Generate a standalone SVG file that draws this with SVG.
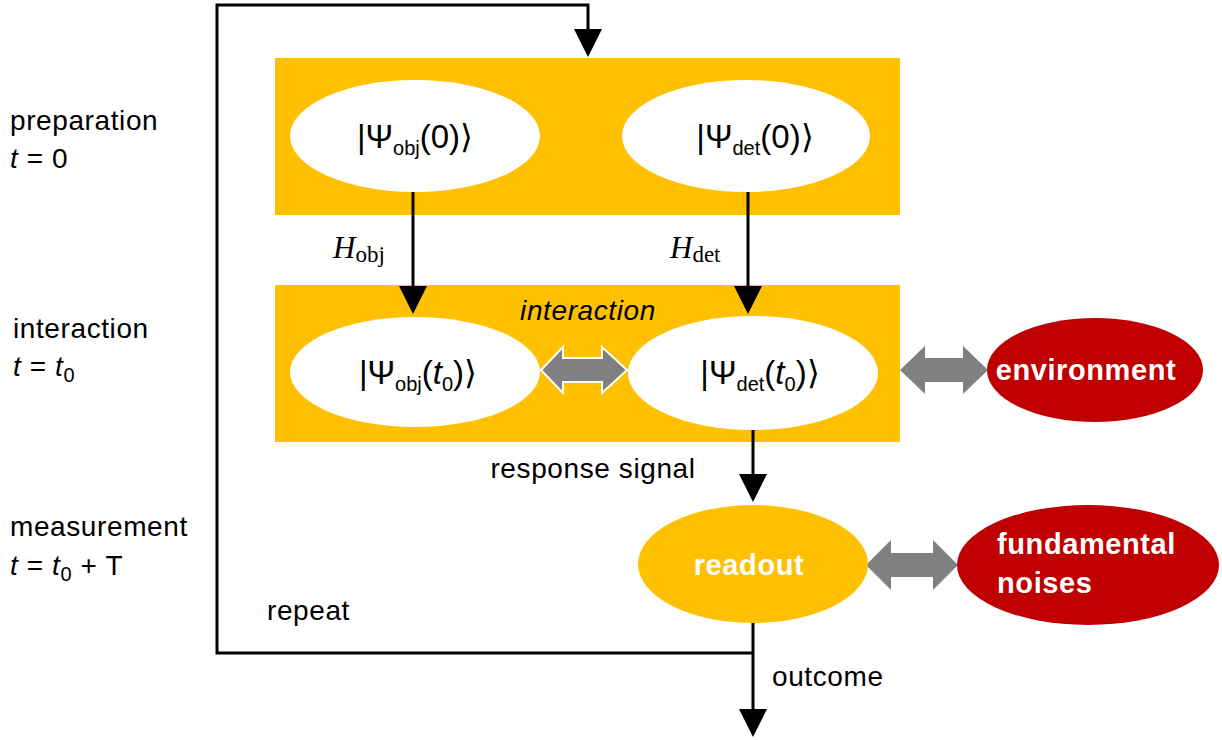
<svg xmlns="http://www.w3.org/2000/svg" width="1222" height="740" viewBox="0 0 1222 740">
<defs>
<style>
.box{fill:#FFC000}
.wht{fill:#FFFFFF}
.red{fill:#C00000}
.yel{fill:#FFC000}
.t{font-family:"Liberation Sans",Arial,sans-serif;fill:#000;font-size:28px;letter-spacing:0.6px}
.psi{font-family:"Liberation Sans",Arial,sans-serif;fill:#000;font-size:33px}
.sub{font-size:20px}
.wb{font-family:"Liberation Sans",Arial,sans-serif;fill:#FFFFFF;font-weight:bold;font-size:29px;letter-spacing:0.6px}
.m{font-family:"Liberation Serif","Times New Roman",serif;fill:#000;font-size:31px}
.ln{stroke:#000;stroke-width:3;fill:none}
.ga{fill:#808080}
.gaw{fill:#808080;stroke:#FFFFFF;stroke-width:2}
</style>
</defs>
<rect width="1222" height="740" fill="#FFFFFF"/>

<g id="labels">
<text class="t" x="10" y="130">preparation</text>
<text class="t" x="10" y="168"><tspan font-style="italic">t</tspan> = 0</text>
<text class="t" x="13" y="338">interaction</text>
<text class="t" x="13" y="376"><tspan font-style="italic">t</tspan> = <tspan font-style="italic">t</tspan><tspan class="sub" dy="6">0</tspan></text>
<text class="t" x="10" y="536">measurement</text>
<text class="t" x="10" y="575"><tspan font-style="italic">t</tspan> = <tspan font-style="italic">t</tspan><tspan class="sub" dy="6">0</tspan><tspan dy="-6"> + T</tspan></text>
<text class="t" x="267" y="620">repeat</text>
<text class="t" x="593" y="478" text-anchor="middle">response signal</text>
<text class="t" x="772" y="686">outcome</text>
<text class="m" x="333" y="258"><tspan font-style="italic">H</tspan><tspan font-size="23" dy="4">obj</tspan></text>
<text class="m" x="670" y="258"><tspan font-style="italic">H</tspan><tspan font-size="23" dy="4">det</tspan></text>
</g>

<g id="preparation-box">
<rect class="box" x="275" y="58" width="625" height="157"/>
</g>
<g id="interaction-box">
<rect class="box" x="275" y="285" width="625" height="157"/>
<text class="t" x="588" y="320" text-anchor="middle" font-style="italic">interaction</text>
</g>

<g id="connectors">
<polyline class="ln" points="753,653 217,653 217,5 588,5 588,30"/>
<path d="M574,29 L602,29 L588,57 Z" fill="#000"/>
<line class="ln" x1="413" y1="190" x2="413" y2="287"/>
<path d="M399,286 L427,286 L413,314 Z" fill="#000"/>
<line class="ln" x1="748" y1="190" x2="748" y2="287"/>
<path d="M734,286 L762,286 L748,314 Z" fill="#000"/>
<line class="ln" x1="753" y1="428" x2="753" y2="475"/>
<path d="M739,474 L767,474 L753,502 Z" fill="#000"/>
<line class="ln" x1="753" y1="620" x2="753" y2="710"/>
<path d="M739,709 L767,709 L753,737 Z" fill="#000"/>
<path class="gaw" d="M541,370 L563,347 L563,358 L602,358 L602,347 L627,370 L602,393 L602,382 L563,382 L563,393 Z"/>
<path class="ga" d="M900,370 L925,346 L925,358 L963,358 L963,346 L988,370 L963,394 L963,382 L925,382 L925,394 Z"/>
<path class="ga" d="M866,565 L891,540 L891,553 L933,553 L933,540 L958,565 L933,590 L933,577 L891,577 L891,590 Z"/>
</g>

<g id="psi-obj-0">
<ellipse class="wht" cx="415" cy="136" rx="125" ry="56"/>
<text class="psi" x="415" y="148" text-anchor="middle">|Ψ<tspan class="sub" dy="7">obj</tspan><tspan dy="-7">(0)⟩</tspan></text>
</g>
<g id="psi-det-0">
<ellipse class="wht" cx="746" cy="136" rx="124" ry="56"/>
<text class="psi" x="755" y="148" text-anchor="middle">|Ψ<tspan class="sub" dy="7">det</tspan><tspan dy="-7">(0)⟩</tspan></text>
</g>
<g id="psi-obj-t0">
<ellipse class="wht" cx="415" cy="372" rx="125" ry="55"/>
<text class="psi" x="418" y="384" text-anchor="middle">|Ψ<tspan class="sub" dy="7">obj</tspan><tspan dy="-7">(</tspan><tspan font-style="italic">t</tspan><tspan class="sub" dy="7">0</tspan><tspan dy="-7">)⟩</tspan></text>
</g>
<g id="psi-det-t0">
<ellipse class="wht" cx="753" cy="373" rx="125" ry="57"/>
<text class="psi" x="760" y="384" text-anchor="middle">|Ψ<tspan class="sub" dy="7">det</tspan><tspan dy="-7">(</tspan><tspan font-style="italic">t</tspan><tspan class="sub" dy="7">0</tspan><tspan dy="-7">)⟩</tspan></text>
</g>
<g id="environment">
<ellipse class="red" cx="1095" cy="370" rx="108" ry="52"/>
<text class="wb" x="1086" y="380" text-anchor="middle">environment</text>
</g>
<g id="readout">
<ellipse class="yel" cx="753" cy="564" rx="115" ry="59"/>
<text class="wb" x="749" y="575" text-anchor="middle">readout</text>
</g>
<g id="fundamental-noises">
<ellipse class="red" cx="1088" cy="565" rx="131" ry="60"/>
<text class="wb" x="997" y="554">fundamental</text>
<text class="wb" x="997" y="593">noises</text>
</g>
</svg>
